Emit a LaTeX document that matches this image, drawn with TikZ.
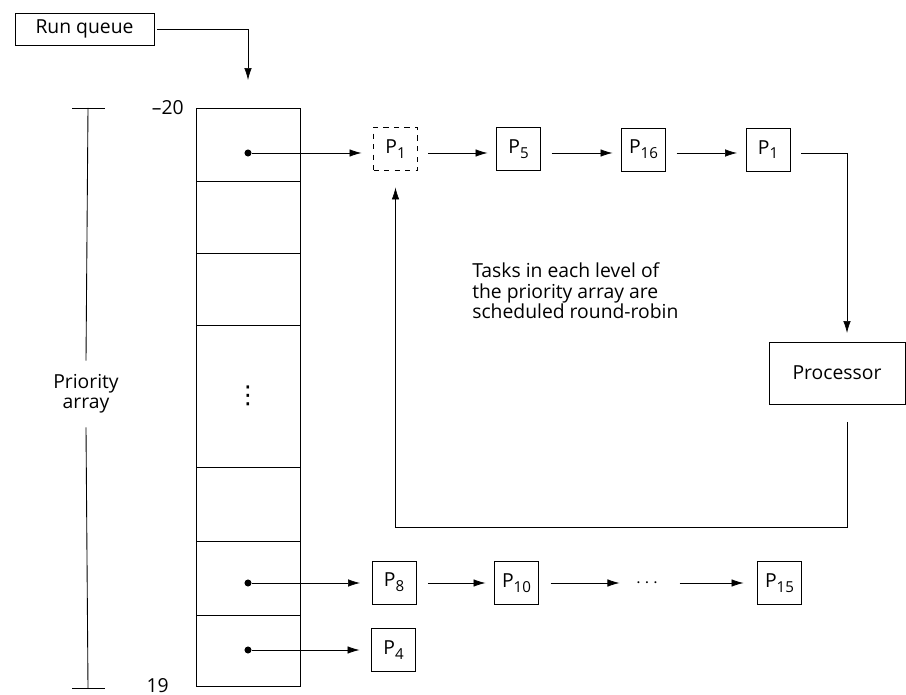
\documentclass[tikz,border=0pt]{standalone}
\usepackage{fontspec}
\setmainfont{Open Sans}
\newfontfamily\symfont{DejaVu Sans}
\usetikzlibrary{arrows.meta,positioning,calc}
\newcommand{\diagfont}{\fontsize{11}{11.6}\selectfont}
\newcommand{\psub}[1]{P\raisebox{-0.45ex}{\fontsize{8.6}{9}\selectfont #1}}
\tikzset{
  pabox/.style={draw, rectangle, inner sep=0pt, outer sep=0pt, minimum width=0.88cm, minimum height=0.86cm, font=\diagfont},
  pacell/.style={draw, rectangle, inner sep=0pt, outer sep=0pt, minimum width=2.08cm},
  padot/.style={circle, fill, inner sep=0pt, minimum size=4pt},
  paarrow/.style={-{Latex[length=2.4mm,width=1.5mm]}, thin, shorten >=0.22cm},
  palabel/.style={font=\diagfont},
}

\begin{document}
\begin{tikzpicture}[x=0.02cm, y=-0.02cm, line width=0.5pt]
  \useasboundingbox (0,0) rectangle (906,695);

  % run queue pointer
  \node[pabox, minimum width=2.78cm, minimum height=0.64cm] (runq) at (84.5,29) {Run queue};

  % the priority array
  \node[pacell, minimum height=1.46cm] (row1) at (248,144.5) {};
  \node[pacell, minimum height=1.44cm] (row2) at (248,217) {};
  \node[pacell, minimum height=1.44cm] (row3) at (248,289) {};
  \node[pacell, minimum height=2.84cm, font=\symfont\fontsize{14}{15}\selectfont] (row4) at (248,396) {⋮};
  \node[pacell, minimum height=1.48cm] (row5) at (248,504) {};
  \node[pacell, minimum height=1.48cm] (row6) at (248,578) {};
  \node[pacell, minimum height=1.42cm] (row7) at (248,650.5) {};

  \node[palabel, anchor=east] (lo) at ([xshift=-0.12cm]row1.north west) {–20};
  \node[palabel, anchor=east] (hi) at ([xshift=-0.42cm]row7.south west) {19};

  % bracket on the left
  \coordinate (brtop) at (88,108);
  \coordinate (brbot) at (88,688);
  \node[palabel, align=center] (prio) at (86,394) {Priority\\array};
  \draw ([xshift=-0.32cm]brtop) -- ([xshift=0.34cm]brtop);
  \draw ([xshift=-0.32cm]brbot) -- ([xshift=0.34cm]brbot);
  \draw (brtop) -- ([yshift=0.15cm]prio.north);
  \draw ([yshift=-0.15cm]prio.south) -- (brbot);

  % list heads
  \node[padot] (d1) at (248,153) {};
  \node[padot] (d6) at (248,583) {};
  \node[padot] (d7) at (248,650) {};

  % level -20 queue
  \node[pabox, dashed] (p1a) at (395.5,149) {\psub{1}};
  \node[pabox] (p5) at (518.5,149) {\psub{5}};
  \node[pabox] (p16) at (643.5,149.5) {\psub{16}};
  \node[pabox] (p1b) at (768,149.5) {\psub{1}};

  \node[pabox, minimum width=2.72cm, minimum height=1.24cm] (proc) at (837,373) {Processor};

  \node[palabel, anchor=west, align=left] (note) at (466,291)
    {Tasks in each level of\\the priority array are\\scheduled round-robin};

  % level 18 and 19 queues
  \node[pabox] (p8) at (394,582.5) {\psub{8}};
  \node[pabox] (p10) at (516.5,583) {\psub{10}};
  \node[palabel] (more) at (647,583) {$\cdots$};
  \node[pabox] (p15) at (779.5,583) {\psub{15}};
  \node[pabox] (p4) at (393.5,650) {\psub{4}};

  \draw[paarrow, shorten <=0.06cm, shorten >=0.56cm] (runq.east) -| (row1.north);

  \draw[paarrow, shorten >=0.24cm] (d1) -- (d1 -| p1a.west);
  \draw[paarrow, shorten <=0.22cm, shorten >=0.18cm] (p1a.east |- d1) -- (p5.west |- d1);
  \draw[paarrow, shorten <=0.22cm, shorten >=0.18cm] (p5.east |- d1) -- (p16.west |- d1);
  \draw[paarrow, shorten <=0.22cm, shorten >=0.18cm] (p16.east |- d1) -- (p1b.west |- d1);
  \draw[paarrow, shorten <=0.22cm, shorten >=0.18cm] (p1b.east |- d1) -| ([xshift=0.2cm]proc.north);
  \draw[paarrow, shorten <=0.36cm, shorten >=0.34cm] ([xshift=0.2cm]proc.south) -- ++(0,123) -| (p1a.south);

  \draw[paarrow, shorten >=0.24cm] (d6) -- (d6 -| p8.west);
  \draw[paarrow, shorten <=0.24cm, shorten >=0.18cm] (p8.east |- d6) -- (p10.west |- d6);
  \draw[paarrow, shorten <=0.24cm, shorten >=0.2cm] (p10.east |- d6) -- (more.west |- d6);
  \draw[paarrow, shorten <=0.3cm, shorten >=0.28cm] (more.east |- d6) -- (p15.west |- d6);
  \draw[paarrow, shorten >=0.24cm] (d7) -- (d7 -| p4.west);
\end{tikzpicture}
\end{document}
